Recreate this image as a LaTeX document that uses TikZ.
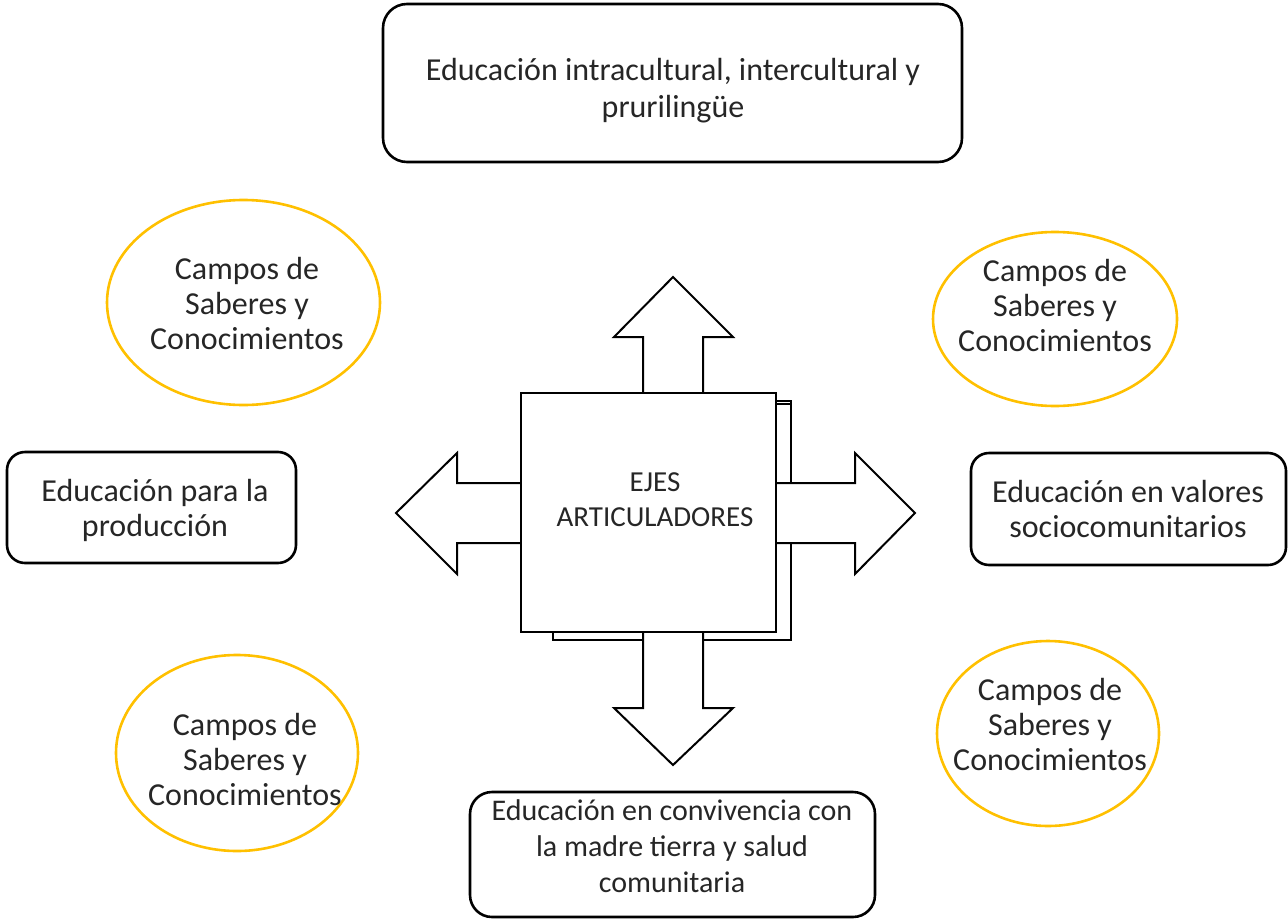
\documentclass[tikz,border=0pt]{standalone}
\usepackage{fontspec}
\setmainfont{Carlito}
\usetikzlibrary{shapes.geometric}
\definecolor{oro}{RGB}{255,192,0}
\definecolor{tinta}{RGB}{38,38,38}

\begin{document}
\begin{tikzpicture}[x=0.5pt,y=-0.5pt]
    \tikzstyle{box} = [rectangle, rounded corners=12pt, draw=black, line width=1.3pt, inner sep=0pt]
    \tikzstyle{campo} = [ellipse, draw=oro, line width=1.3pt, inner sep=0pt]
    \tikzstyle{texto} = [align=center, text=tinta, font=\fontsize{16}{17.5}\selectfont]
    \tikzstyle{flecha} = [draw=black, fill=white, line width=1pt, line join=miter]

    \useasboundingbox (0,0) rectangle (1288,920);

    % ejes (cajas)
    \node [box, minimum width=289.5pt, minimum height=79pt] (intra) at (672.5,83) {};
    \node [texto, font=\fontsize{16}{18.5}\selectfont] (intratxt) at (673,91) {Educación intracultural, intercultural y\\prurilingüe};

    \node [box, rounded corners=9pt, minimum width=144.5pt, minimum height=55.5pt] (prod) at (151.5,507.5) {};
    \node [texto] (prodtxt) at (155,510) {Educación para la\\producción};

    \node [box, rounded corners=9pt, minimum width=157.5pt, minimum height=56pt] (valores) at (1128.5,509) {};
    \node [texto] (valorestxt) at (1128,509) {Educación en valores\\sociocomunitarios};

    \node [box, rounded corners=11pt, minimum width=202.5pt, minimum height=62.5pt] (tierra) at (672.5,854.5) {};
    \node [texto, font=\fontsize{15}{18}\selectfont] (tierratxt) at (672,846) {Educación en convivencia con\\la madre tierra y salud\\comunitaria};

    % campos
    \node [campo, minimum width=136.5pt, minimum height=102.5pt] (campoA) at (243.5,302.5) {};
    \node [texto] (campoAtxt) at (247,304) {Campos de\\Saberes y\\Conocimientos};

    \node [campo, minimum width=122pt, minimum height=87pt] (campoB) at (1055,319) {};
    \node [texto] (campoBtxt) at (1055,306) {Campos de\\Saberes y\\Conocimientos};

    \node [campo, minimum width=121pt, minimum height=98pt] (campoC) at (237,753) {};
    \node [texto] (campoCtxt) at (245,759) {Campos de\\Saberes y\\Conocimientos};

    \node [campo, minimum width=111pt, minimum height=92.5pt] (campoD) at (1048,733.5) {};
    \node [texto] (campoDtxt) at (1050,724) {Campos de\\Saberes y\\Conocimientos};

    % hojas de atras
    \draw [line width=1pt, fill=white] (553,401) rectangle (791,640);
    \draw [line width=1pt] (553,404) -- (791,404);

    % flechas
    \draw [flecha] (643,500) -- (643,337) -- (614,337) -- (673,277) -- (733,337) -- (703,337) -- (703,500) -- cycle;
    \draw [flecha] (643,500) -- (643,708) -- (614,708) -- (673,765) -- (733,708) -- (703,708) -- (703,500) -- cycle;
    \draw [flecha] (600,483) -- (457,483) -- (457,453) -- (396,513) -- (457,574) -- (457,543) -- (600,543) -- cycle;
    \draw [flecha] (700,483) -- (855,483) -- (855,453) -- (915,513) -- (855,574) -- (855,543) -- (700,543) -- cycle;

    \node [draw=black, fill=white, line width=1pt, minimum width=127.5pt, minimum height=119.5pt, inner sep=0pt] (ejes) at (648.5,512.5) {};
    \node [texto, font=\fontsize{14.5}{17.5}\selectfont] (ejestxt) at (655,500) {EJES\\ARTICULADORES};

\end{tikzpicture}
\end{document}
